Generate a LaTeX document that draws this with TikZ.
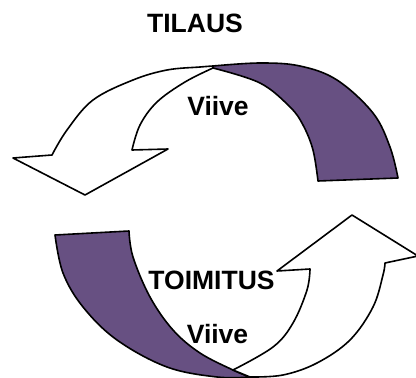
\documentclass[tikz,border=0pt]{standalone}
\usepackage{fontspec}
\setmainfont{Liberation Sans}
\definecolor{bandpurple}{RGB}{103,80,130}
\definecolor{lav}{RGB}{214,207,227}
\tikzset{
  ribbon/.style={draw=black, line width=1.6pt, line join=round},
  backside/.style={ribbon, fill=bandpurple},
  frontside/.style={ribbon, left color=white, middle color=lav, right color=white},
  label/.style={font=\bfseries\fontsize{26.5}{26.5}\selectfont, anchor=base, inner sep=0pt}
}
\begin{document}
\begin{tikzpicture}[x=1pt, y=-1pt]
\useasboundingbox (0,0) rectangle (416,378);

% upper arrow: purple back of the band
\path[backside] (213,68)
  -- plot[smooth, tension=0.6] coordinates {(213,66) (260,63) (300,66) (337,80) (373,113) (390,147) (398,178)}
  -- (318,181)
  -- plot[smooth, tension=0.6] coordinates {(318,181) (313,150) (303,125) (290,107) (260,83) (213,68)}
  -- cycle;
% upper arrow: light front with head pointing down-left
\path[frontside] (213,67)
  -- plot[smooth, tension=0.6] coordinates {(213,66) (200,67) (167,70) (133,80) (93,100) (67,130) (52,155)}
  -- (13,158) -- (85,195) -- (168,149) -- (132,150)
  -- plot[smooth, tension=0.6] coordinates {(132,150) (140,125) (157,102) (185,82) (213,68)}
  -- cycle;

% lower arrow: purple back of the band
\path[backside] (55,235) -- (129,231)
  -- plot[smooth, tension=0.6] coordinates {(129,231) (133,257) (150,297) (173,330) (200,353) (233,370) (250,377)}
  -- plot[smooth, tension=0.6] coordinates {(250,377) (217,377) (167,367) (117,340) (83,307) (63,273) (55,235)}
  -- cycle;
% lower arrow: light front with head pointing up-right
\path[frontside] (233,370)
  -- plot[smooth, tension=0.6] coordinates {(233,370) (273,347) (293,323) (307,290) (310,269)}
  -- (277,271) -- (352,215) -- (418,256) -- (385,263)
  -- plot[smooth, tension=0.6] coordinates {(385,263) (383,275) (373,307) (350,340) (317,363) (283,375) (250,377)}
  -- cycle;

% labels
\node[label] (tilaus) at (195,32) {TILAUS};
\node[label] (viiveA) at (218,115) {Viive};
\node[label] (toimitus) at (211.5,289) {TOIMITUS};
\node[label] (viiveB) at (217.5,343) {Viive};
\end{tikzpicture}
\end{document}
